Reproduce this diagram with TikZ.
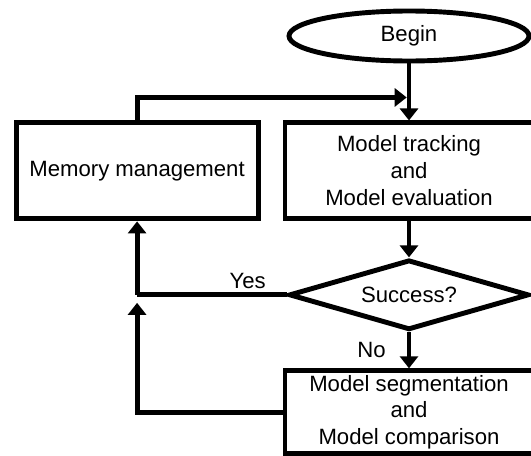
\documentclass[tikz,border=0pt]{standalone}
\usepackage{fontspec}
\setmainfont{Liberation Sans}
\usepackage{tikz}
\usetikzlibrary{shapes.geometric, arrows.meta, positioning}

\begin{document}
\begin{tikzpicture}[
    line width=2.8pt,
    every node/.style={font=\fontsize{12.6}{15.3}\selectfont},
    box/.style={draw, align=center, minimum width=4.96cm, inner sep=2pt},
    term/.style={draw, ellipse, minimum width=4.8cm, minimum height=1.0cm, inner sep=1pt},
    cond/.style={draw, diamond, shape aspect=3.3, minimum width=4.8cm,
                 minimum height=1.4cm, inner sep=1pt},
    arr/.style={-{Triangle[length=0.24cm, width=0.36cm]}}
]
\useasboundingbox (0,0) rectangle (10.62,-9.12);

\node[term] (begin) at (8.18,-0.72) {Begin};
\node[box, minimum height=1.92cm, below=1.14cm of begin] (track)
     {Model tracking\\and\\Model evaluation};
\node[box, minimum width=4.84cm, minimum height=1.92cm, left=0.44cm of track] (memory)
     {Memory management};
\node[cond, below=0.72cm of track] (success) {Success?};
\node[box, minimum height=1.66cm, below=0.72cm of success] (segm)
     {Model segmentation\\and\\Model comparison};

\coordinate (merge) at ([yshift=-0.68cm]begin.south);
\coordinate (join) at (memory.south |- success.west);

\draw[arr] (begin) -- (track);
\draw[arr] (track) -- (success);
\draw[arr] (success) -- node[left=0.3cm] {No} (segm);
\draw (success.west) -- node[above, pos=0.26, inner sep=2pt] {Yes} (join);
\draw[arr] (join) -- (memory.south);
\draw[arr, shorten >=0.16cm] (segm.west) -| (join);
\draw[arr, shorten >=1.3pt] (memory.north) |- (merge);
\end{tikzpicture}
\end{document}
